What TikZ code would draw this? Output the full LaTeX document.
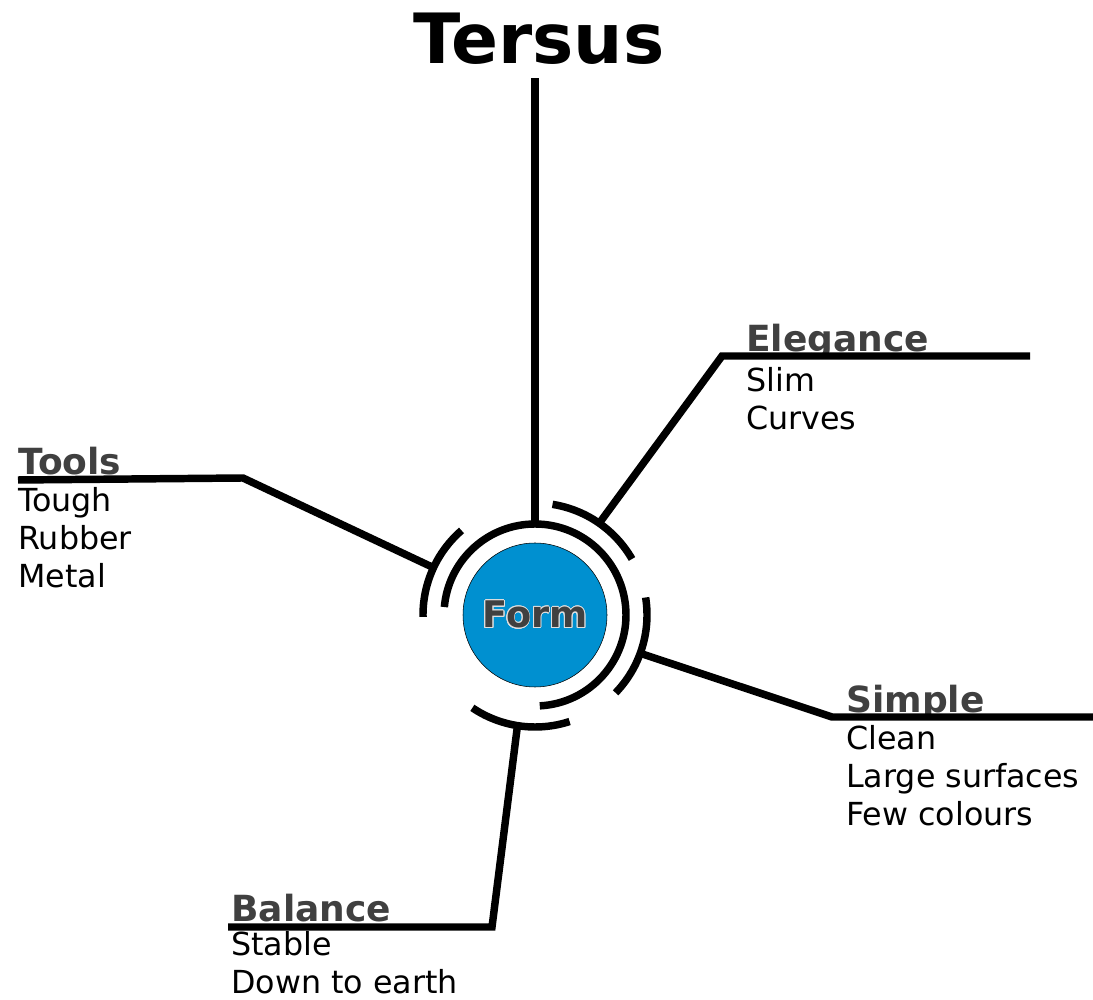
\documentclass[tikz,border=0pt]{standalone}
\usepackage{fontspec}
\setmainfont{DejaVu Sans}
\usepackage{contour}
\usetikzlibrary{calc}
\definecolor{formblue}{HTML}{0090D0}
\definecolor{headgray}{HTML}{404040}
\contourlength{0.6pt}

\begin{document}
\begin{tikzpicture}[x=0.75pt, y=0.75pt,
    branch/.style={line width=5.6pt},
    heading/.style={anchor=base west, inner sep=0pt, font=\fontsize{27}{32}\selectfont\bfseries, text=headgray},
    items/.style={anchor=base west, inner sep=0pt, align=left, font=\fontsize{23.8}{28.5}\selectfont}]
    \useasboundingbox (0,0) rectangle (1093,1000);
    \def\ring{91}
    \def\outer{112}

    % Centre
    \node[circle, fill=formblue, draw=black, thin, minimum size=108pt, inner sep=0pt] (form) at (535,385)
        {\fontsize{27.5}{32}\selectfont\bfseries\contour{gray!25}{\textcolor{headgray}{Form}}};
    \draw[branch] ($(form.center)+(-87:\ring)$) arc[start angle=-87, end angle=175, radius=\ring];

    % Outer arcs
    \draw[branch] ($(form.center)+(30:\outer)$) arc[start angle=30, end angle=81, radius=\outer];
    \draw[branch] ($(form.center)+(-44:\outer)$) arc[start angle=-44, end angle=9, radius=\outer];
    \draw[branch] ($(form.center)+(-124:\outer)$) arc[start angle=-124, end angle=-72, radius=\outer];
    \draw[branch] ($(form.center)+(131:\outer)$) arc[start angle=131, end angle=181, radius=\outer];

    % Title
    \node[anchor=base, inner sep=0pt, font=\fontsize{52}{60}\selectfont\bfseries] (title) at (539,936) {Tersus};
    \coordinate (titlefoot) at (535,922);
    \draw[branch] ($(form.center)+(90:\ring)$) -- (titlefoot);

    % Elegance (last line sits on base)
    \node[heading] (elegance) at (746,648) {Elegance};
    \node[items] (eleganceitems) at (746,570) {Slim\\Curves};
    \coordinate (elegancebend) at (722,644);
    \coordinate (eleganceend) at (1030,644);
    \draw[branch] ($(form.center)+(55:\outer)$) -- (elegancebend) -- (eleganceend);

    % Tools
    \node[heading] (tools) at (18,525) {Tools};
    \node[items] (toolsitems) at (18,412) {Tough\\Rubber\\Metal};
    \coordinate (toolsbend) at (243,522);
    \coordinate (toolsend) at (18,520);
    \draw[branch] ($(form.center)+(155:\outer)$) -- (toolsbend) -- (toolsend);

    % Simple
    \node[heading] (simple) at (846,287) {Simple};
    \node[items] (simpleitems) at (846,174) {Clean\\Large surfaces\\Few colours};
    \coordinate (simplebend) at (832,283);
    \coordinate (simpleend) at (1093,283);
    \draw[branch] ($(form.center)+(-20:\outer)$) -- (simplebend) -- (simpleend);

    % Balance
    \node[heading] (balance) at (231,78) {Balance};
    \node[items] (balanceitems) at (231,6) {Stable\\Down to earth};
    \coordinate (balancebend) at (492,73);
    \coordinate (balanceend) at (228,73);
    \draw[branch] ($(form.center)+(-99:\outer)$) -- (balancebend) -- (balanceend);

\end{tikzpicture}
\end{document}
